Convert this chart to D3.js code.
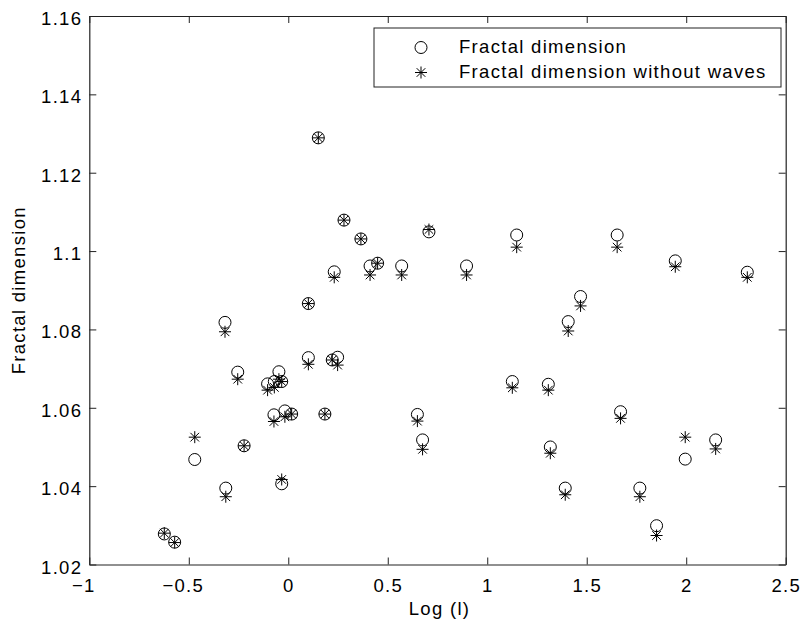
<!DOCTYPE html>
<html>
<head>
<meta charset="utf-8">
<script src="https://cdn.jsdelivr.net/npm/d3@7"></script>
<style>
  body { margin: 0; background: #fff; }
  text { font-family: "Liberation Sans", Arial, sans-serif; letter-spacing: 1.3px; }
</style>
</head>
<body>
<div id="chart"></div>
<script>
// values
const logL = [-0.623, -0.571, -0.470, -0.314, -0.318, -0.254, -0.222, -0.104, -0.070, -0.072,
  -0.047, -0.033, -0.033, -0.017, 0.017, 0.101, 0.101, 0.151, 0.184, 0.221,
  0.231, 0.248, 0.280, 0.365, 0.411, 0.449, 0.570, 0.649, 0.675, 0.707,
  0.896, 1.126, 1.148, 1.307, 1.317, 1.392, 1.407, 1.469, 1.653, 1.670,
  1.767, 1.851, 1.945, 1.995, 2.148, 2.307];
const fractalDim = [1.0278, 1.0257, 1.0468, 1.0395, 1.0818, 1.0691, 1.0503, 1.0661, 1.0667, 1.0582,
  1.0692, 1.0667, 1.0406, 1.0592, 1.0584, 1.0728, 1.0866, 1.1289, 1.0584, 1.0722,
  1.0947, 1.0729, 1.1079, 1.1031, 1.0962, 1.0969, 1.0962, 1.0583, 1.0518, 1.1049,
  1.0962, 1.0667, 1.1041, 1.0660, 1.0500, 1.0395, 1.0820, 1.0884, 1.1041, 1.0590,
  1.0395, 1.0299, 1.0975, 1.0469, 1.0518, 1.0946];
const fractalDimNoWaves = [1.0280, 1.0256, 1.0525, 1.0373, 1.0794, 1.0673, 1.0503, 1.0645, 1.0652, 1.0565,
  1.0673, 1.0667, 1.0417, 1.0577, 1.0584, 1.0711, 1.0866, 1.1289, 1.0584, 1.0722,
  1.0933, 1.0709, 1.1079, 1.1031, 1.0939, 1.0969, 1.0939, 1.0566, 1.0494, 1.1055,
  1.0939, 1.0651, 1.1010, 1.0645, 1.0484, 1.0378, 1.0796, 1.0860, 1.1010, 1.0573,
  1.0373, 1.0274, 1.0960, 1.0525, 1.0495, 1.0933];
const xTicks = [-1, -0.5, 0, 0.5, 1, 1.5, 2, 2.5];
const yTicks = [1.02, 1.04, 1.06, 1.08, 1.1, 1.12, 1.14, 1.16];
const seriesNames = ["Fractal dimension", "Fractal dimension without waves"];

const width = 804,
  height = 627,
  margin = { top: 16, right: 18.3, bottom: 62.5, left: 89.3 };

const svg = d3.select("#chart")
  .append("svg")
  .attr("width", width)
  .attr("height", height);

const x = d3.scaleLinear().domain([-1, 2.5]).range([margin.left, width - margin.right]);
const y = d3.scaleLinear().domain([1.02, 1.16]).range([height - margin.bottom, margin.top]);

const fmt = d => String(Math.abs(d));
const fs = 18.5;

// axes, ticks pointing inward on all four sides
const axisStyle = g => {
  g.selectAll(".domain").attr("stroke", "#222").attr("stroke-width", 1.2);
  g.selectAll(".tick line").attr("stroke", "#222");
  g.selectAll(".tick text").attr("fill", "#000").attr("font-size", fs)
    .attr("font-family", "Liberation Sans, Arial, sans-serif");
};

svg.append("g")
  .attr("transform", `translate(0,${height - margin.bottom})`)
  .call(d3.axisBottom(x).tickValues(xTicks).tickSizeInner(-7).tickSizeOuter(0).tickPadding(0).tickFormat(fmt))
  .call(axisStyle)
  .call(g => g.selectAll(".tick text")
    .attr("y", 27).attr("dy", 0)
    .text(d => (d < 0 ? "\u2212" : "") + fmt(d))
    .attr("dx", d => d < 0 ? -6 : 0));

svg.append("g")
  .attr("transform", `translate(0,${margin.top})`)
  .call(d3.axisTop(x).tickValues(xTicks).tickSizeInner(-7).tickSizeOuter(0).tickFormat(""))
  .call(axisStyle);

svg.append("g")
  .attr("transform", `translate(${margin.left},0)`)
  .call(d3.axisLeft(y).tickValues(yTicks).tickSizeInner(-7).tickSizeOuter(0).tickPadding(0).tickFormat(d3.format("")))
  .call(axisStyle)
  .call(g => g.selectAll(".tick text").attr("x", -7).attr("dy", 8.5));

svg.append("g")
  .attr("transform", `translate(${width - margin.right},0)`)
  .call(d3.axisRight(y).tickValues(yTicks).tickSizeInner(-7).tickSizeOuter(0).tickFormat(""))
  .call(axisStyle);

// axis titles
svg.append("text")
  .attr("x", (margin.left + width - margin.right) / 2 + 2)
  .attr("y", 615)
  .attr("text-anchor", "middle")
  .attr("font-size", fs)
  .text("Log (l)");

svg.append("text")
  .attr("transform", `translate(25,${(margin.top + height - margin.bottom) / 2}) rotate(-90)`)
  .attr("text-anchor", "middle")
  .attr("font-size", fs)
  .text("Fractal dimension");

// markers
const starPath = r => {
  const d = r * 0.72;
  return `M0,${-r}V${r}M${-r},0H${r}M${-d},${-d}L${d},${d}M${-d},${d}L${d},${-d}`;
};

const pts = logL.map((v, i) => ({ x: v, a: fractalDim[i], b: fractalDimNoWaves[i] }));

svg.append("g").selectAll("circle")
  .data(pts)
  .join("circle")
  .attr("cx", d => x(d.x))
  .attr("cy", d => y(d.a))
  .attr("r", 6)
  .attr("fill", "none")
  .attr("stroke", "#000")
  .attr("stroke-width", 1);

svg.append("g").selectAll("path")
  .data(pts)
  .join("path")
  .attr("transform", d => `translate(${x(d.x)},${y(d.b)})`)
  .attr("d", starPath(6))
  .attr("fill", "none")
  .attr("stroke", "#000")
  .attr("stroke-width", 1);

// legend
const legend = svg.append("g");
legend.append("rect")
  .attr("x", 374).attr("y", 28)
  .attr("width", 407).attr("height", 59)
  .attr("fill", "#fff")
  .attr("stroke", "#222")
  .attr("stroke-width", 1);

legend.append("circle")
  .attr("cx", 421).attr("cy", 47.5).attr("r", 6)
  .attr("fill", "none").attr("stroke", "#000");
legend.append("path")
  .attr("transform", "translate(421,72.5)")
  .attr("d", starPath(6))
  .attr("fill", "none").attr("stroke", "#000");

legend.selectAll("text.lab")
  .data(seriesNames)
  .join("text")
  .attr("class", "lab")
  .attr("x", 459)
  .attr("y", (d, i) => 53 + i * 25)
  .attr("font-size", fs)
  .text(d => d);
</script>
</body>
</html>
